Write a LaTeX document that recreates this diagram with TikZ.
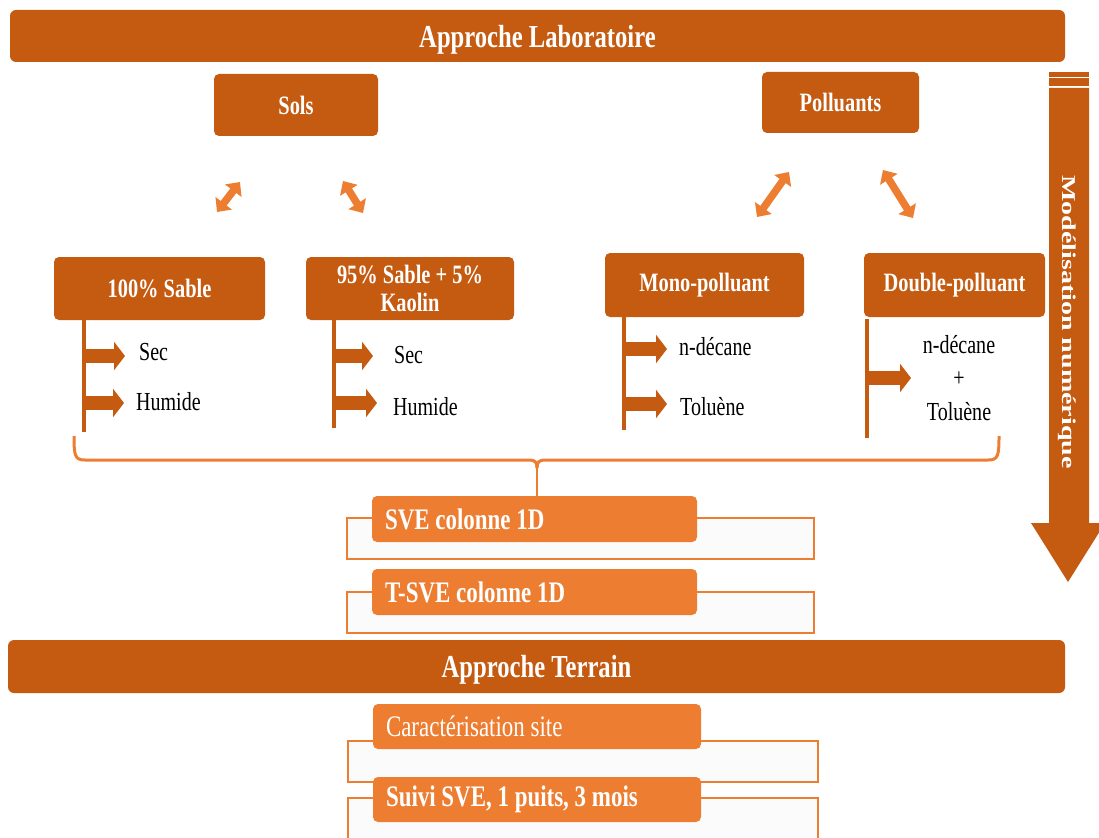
\documentclass[tikz,border=0pt]{standalone}
\usepackage{fontspec}
\setmainfont[FakeStretch=0.77]{Liberation Serif}
\newfontfamily\vfont{Liberation Serif}
\usetikzlibrary{arrows.meta,calc}
\definecolor{dk}{HTML}{C55A11}
\definecolor{lt}{HTML}{ED7D31}
\definecolor{pale}{HTML}{FBFBFB}
\newcommand\stgtxt[2][299pt]{\makebox[#1][l]{#2}}
\begin{document}
\begin{tikzpicture}[x=1pt,y=-1pt,
  banner/.style={fill=dk, rounded corners=6pt, text=white, inner sep=0pt, outer sep=0pt, text depth=0pt,
     font=\fontsize{32}{34}\selectfont\bfseries},
  catbox/.style={fill=dk, rounded corners=5pt, text=white, inner sep=0pt, outer sep=0pt, align=center,
     font=\fontsize{26.5}{28}\selectfont\bfseries},
  itemtxt/.style={text=black, font=\fontsize{26}{28}\selectfont, anchor=west, inner sep=0pt},
  vline/.style={draw=dk, line width=4.5pt},
  blockarr/.style={draw=dk, line width=14pt, -{Triangle[length=11pt,width=28pt]}},
  dblarr/.style={draw=lt, line width=7.5pt, {Triangle[length=11pt,width=20pt]}-{Triangle[length=11pt,width=20pt]}},
  bracel/.style={draw=lt, line width=3pt},
  frame/.style={draw=lt, line width=1.3pt, fill=pale},
  stagebox/.style={fill=lt, rounded corners=5pt, text=white, inner xsep=13pt, inner ysep=0pt, outer sep=0pt,
     minimum height=46pt, font=\fontsize{29.8}{30}\selectfont\bfseries},
]
\useasboundingbox (0,0) rectangle (1099,837);
\clip (0,0) rectangle (1099,837);

% banners
\node[banner, minimum width=1055pt, minimum height=52pt] (lab) at (537.5,36) {Approche Laboratoire};
\node[banner, minimum width=1057pt, minimum height=53pt] (ter) at (536.5,666.5) {Approche Terrain};

% first level
\node[catbox, minimum width=164pt, minimum height=62pt] (sols) at (296,105) {Sols};
\node[catbox, minimum width=157pt, minimum height=61pt] (pol) at (840.5,102.5) {Polluants};

% second level
\node[catbox, minimum width=211pt, minimum height=63pt] (s100) at (159.5,288.5) {100\% Sable};
\node[catbox, minimum width=208pt, minimum height=63pt] (s95) at (410,288.5) {95\% Sable + 5\%\\Kaolin};
\node[catbox, minimum width=199pt, minimum height=64pt] (mono) at (704.5,285) {Mono-polluant};
\node[catbox, minimum width=181pt, minimum height=64pt] (dbl) at (954.5,285) {Double-polluant};

% double arrows
\draw[dblarr] (217,212) -- (240,182);
\draw[dblarr] (343,181) -- (363,213);
\draw[dblarr] (757,217) -- (789,172);
\draw[dblarr] (883,170) -- (913,218);

% vertical lines
\draw[vline] (84,320) -- (84,432);
\draw[vline] (334,320) -- (334,428);
\draw[vline] (624,317) -- (624,430);
\draw[vline] (867,319) -- (867,438);

% items
\node[itemtxt] (sec1) at (139,352) {Sec};
\node[itemtxt] (hum1) at (136,402) {Humide};
\node[itemtxt] (sec2) at (394,355) {Sec};
\node[itemtxt] (hum2) at (393,407) {Humide};
\node[itemtxt] (dec1) at (679,347) {n-décane};
\node[itemtxt] (tol1) at (680,407) {Toluène};
\node[text=black, font=\fontsize{26}{33.5}\selectfont, align=center, inner sep=0pt] (mix) at (959,378) {n-décane\\+\\Toluène};

\draw[blockarr] (84,356) -- (125,356);
\draw[blockarr] (84,403) -- (124,403);
\draw[blockarr] (334,356) -- (373,356);
\draw[blockarr] (334,403) -- (377,403);
\draw[blockarr] (624,349) -- (667,349);
\draw[blockarr] (624,404) -- (667,404);
\draw[blockarr] (867,378) -- (911,378);

% brace
\coordinate (bl) at (74,436);
\coordinate (br) at (999,436);
\coordinate (bc) at (537,468);
\draw[bracel] (bl) .. controls (74,456) and (75,460) .. (85,460) -- (529,460) .. controls (535,460) and (537,462) .. (bc);
\draw[bracel] (br) .. controls (999,456) and (998,460) .. (988,460) -- (545,460) .. controls (539,460) and (537,462) .. (bc);

% laboratory stages
\draw[frame] (347,518) rectangle (814,559);
\draw[frame] (347,592) rectangle (814,633);
\node[stagebox] (sve) at (534.5,519) {\stgtxt{SVE colonne 1D}};
\node[stagebox] (tsve) at (534.5,592) {\stgtxt{T-SVE colonne 1D}};
\draw[draw=lt, line width=1.5pt] (bc) -- (bc |- sve.north);

% field stages
\draw[frame] (348,741) rectangle (818,782);
\draw[frame] (348,798) rectangle (818,860);
\node[stagebox, minimum height=45pt, font=\fontsize{29.8}{30}\selectfont] (car) at (537,726.5) {\stgtxt[302pt]{Caractérisation site}};
\node[stagebox, minimum height=45pt] (suivi) at (537,799.5) {\stgtxt[302pt]{Suivi SVE, 1 puits, 3 mois}};

% numerical modelling arrow
\fill[dk] (1049,72) rectangle (1089,77);
\fill[dk] (1049,78) rectangle (1089,86);
\fill[dk] (1049,88) -- (1089,88) -- (1089,523) -- (1105,523) -- (1068,582) -- (1031,523) -- (1049,523) -- cycle;
\node[rotate=-90, text=white, inner sep=0pt] (mod) at (1067,322)
  {\scalebox{1}[0.7]{\vfont\bfseries\fontsize{28}{28}\selectfont Modélisation numérique}};
\end{tikzpicture}
\end{document}
